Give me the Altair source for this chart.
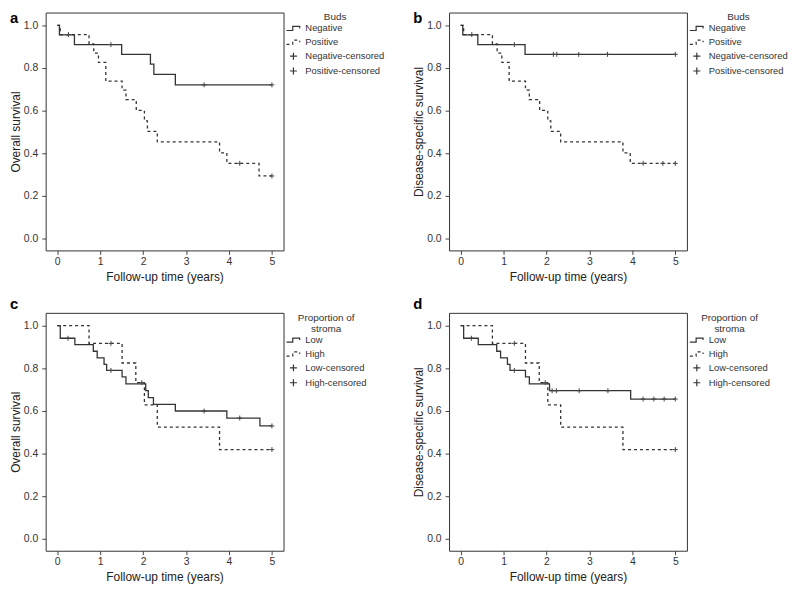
import altair as alt
import pandas as pd

FONT = "Liberation Sans"

# ---------------- data ----------------
groups_ab = ["Negative", "Positive"]
groups_cd = ["Low", "High"]

# Panel a: overall survival by buds
a_neg_t = [0, 0.05, 0.40, 1.50, 2.17, 2.25, 2.75, 5.00]
a_neg_s = [1.0, 0.955, 0.910, 0.864, 0.818, 0.770, 0.721, 0.721]
a_neg_c = [1.25, 3.42, 5.00]
a_pos_t = [0, 0.07, 0.74, 0.85, 0.96, 1.13, 1.51, 1.60, 1.84, 2.03, 2.10, 2.33, 3.78, 3.95, 4.70, 5.00]
a_pos_s = [1.0, 0.957, 0.913, 0.870, 0.826, 0.739, 0.696, 0.652, 0.601, 0.552, 0.503, 0.454, 0.402, 0.353, 0.294, 0.294]
a_pos_c = [0.26, 4.25, 5.00]

# Panel b: disease-specific survival by buds
b_neg_t = [0, 0.05, 0.40, 1.50, 5.00]
b_neg_s = [1.0, 0.955, 0.910, 0.864, 0.864]
b_neg_c = [1.25, 2.16, 2.24, 2.75, 3.42, 5.00]
b_pos_t = [0, 0.07, 0.74, 0.85, 0.96, 1.13, 1.51, 1.60, 1.84, 2.03, 2.10, 2.33, 3.78, 3.95, 5.00]
b_pos_s = [1.0, 0.957, 0.913, 0.870, 0.826, 0.739, 0.696, 0.652, 0.601, 0.552, 0.503, 0.454, 0.402, 0.353, 0.353]
b_pos_c = [0.26, 4.25, 4.71, 5.00]

# Panel c: overall survival by proportion of stroma
c_low_t = [0, 0.07, 0.41, 0.84, 0.93, 1.09, 1.15, 1.51, 1.60, 2.06, 2.12, 2.24, 2.75, 3.95, 4.72, 5.00]
c_low_s = [1.0, 0.941, 0.911, 0.880, 0.849, 0.819, 0.790, 0.760, 0.727, 0.695, 0.663, 0.631, 0.600, 0.567, 0.530, 0.530]
c_low_c = [0.25, 1.25, 3.42, 4.25, 5.00]
c_high_t = [0, 0.74, 1.51, 1.83, 2.03, 2.33, 3.78, 5.00]
c_high_s = [1.0, 0.917, 0.825, 0.733, 0.629, 0.524, 0.419, 0.419]
c_high_c = [1.25, 1.97, 5.00]

# Panel d: disease-specific survival by proportion of stroma
d_low_t = [0, 0.07, 0.41, 0.84, 0.93, 1.09, 1.15, 1.51, 1.60, 2.07, 3.96, 5.00]
d_low_s = [1.0, 0.941, 0.911, 0.880, 0.849, 0.819, 0.790, 0.760, 0.727, 0.695, 0.656, 0.656]
d_low_c = [0.25, 1.25, 2.13, 2.23, 2.76, 3.43, 4.25, 4.50, 4.74, 5.00]
d_high_t = [0, 0.74, 1.51, 1.83, 2.03, 2.33, 3.78, 5.00]
d_high_s = [1.0, 0.917, 0.825, 0.733, 0.629, 0.524, 0.419, 0.419]
d_high_c = [1.25, 1.97, 5.00]

x_ticks = [0, 1, 2, 3, 4, 5]
y_ticks = [0.0, 0.2, 0.4, 0.6, 0.8, 1.0]

# ---------------- styling ----------------
STEP = "M-1,0.3H-0.1V-0.3H0.9V0"
CROSS = "M-0.5,0H0.5M0,-0.5V0.5"
W, H = 240, 240


def surv_at(ts, ss, x):
    v = ss[0]
    for ti, si in zip(ts, ss):
        if ti <= x:
            v = si
    return v


def panel(letter, letter_y, letter_baseline, ytitle, ltitle, groups, curves):
    line_rows, cens_rows = [], []
    for g, (ts, ss, cs) in zip(groups, curves):
        for ti, si in zip(ts, ss):
            line_rows.append({"t": ti, "s": si, "g": g})
        for c in cs:
            cens_rows.append({"t": c, "s": surv_at(ts, ss, c), "g": g + "-censored"})
    dom = groups + [g + "-censored" for g in groups]
    x = alt.X("t:Q",
              scale=alt.Scale(domain=[-0.27, 5.27], nice=False, zero=False),
              axis=alt.Axis(values=x_ticks, title="Follow-up time (years)",
                            labelPadding=2, titlePadding=5))
    y = alt.Y("s:Q",
              scale=alt.Scale(domain=[-0.055, 1.06], nice=False, zero=False),
              axis=alt.Axis(values=y_ticks, format=".1f", title=ytitle,
                            labelPadding=4, titlePadding=1))
    lines = alt.Chart(pd.DataFrame(line_rows)).mark_line(
        interpolate="step-after", color="#333", strokeWidth=1.3
    ).encode(
        x=x, y=y,
        strokeDash=alt.StrokeDash("g:N",
                                  scale=alt.Scale(domain=dom, range=[[1, 0], [3, 3], [1, 0], [1, 0]]),
                                  legend=alt.Legend(title=ltitle)),
    )
    cens = alt.Chart(pd.DataFrame(cens_rows)).mark_point(
        size=100, color="#444", strokeWidth=1, opacity=1
    ).encode(
        x=x, y=y,
        shape=alt.Shape("g:N",
                        scale=alt.Scale(domain=dom, range=[STEP, STEP, CROSS, CROSS]),
                        legend=alt.Legend(title=ltitle)),
    )
    lab = alt.Chart(pd.DataFrame({"l": [letter]})).mark_text(
        text=letter, font=FONT, fontSize=15, fontWeight="bold",
        align="left", baseline=letter_baseline, color="black"
    ).encode(x=alt.value(-36), y=alt.value(letter_y))
    return alt.layer(lines, cens, lab).properties(width=W, height=H)


pa = panel("a", -1, "top", "Overall survival", "Buds", groups_ab,
           [(a_neg_t, a_neg_s, a_neg_c), (a_pos_t, a_pos_s, a_pos_c)])
pb = panel("b", -1, "top", "Disease-specific survival", "Buds", groups_ab,
           [(b_neg_t, b_neg_s, b_neg_c), (b_pos_t, b_pos_s, b_pos_c)])
pc = panel("c", -4, "alphabetic", "Overall survival", ["Proportion of", "stroma"], groups_cd,
           [(c_low_t, c_low_s, c_low_c), (c_high_t, c_high_s, c_high_c)])
pd_ = panel("d", -4, "alphabetic", "Disease-specific survival", ["Proportion of", "stroma"], groups_cd,
            [(d_low_t, d_low_s, d_low_c), (d_high_t, d_high_s, d_high_c)])

chart = alt.concat(pa, pb, pc, pd_, columns=2, spacing={"row": 13, "column": 26}).resolve_scale(
    strokeDash="independent", shape="independent"
).resolve_legend(
    strokeDash="independent", shape="independent"
).properties(
    padding=0
).configure(font=FONT).configure_view(
    stroke="#333", strokeWidth=1
).configure_axis(
    labelFont=FONT, labelFontSize=10.5, labelColor="#333",
    titleFont=FONT, titleFontSize=12, titleFontWeight="normal", titleColor="#222",
    tickColor="#444", tickSize=4, domain=False, grid=False
).configure_legend(
    orient="right", offset=2, padding=0,
    labelFont=FONT, labelFontSize=9.5, labelColor="#333", labelOffset=4,
    titleFont=FONT, titleFontSize=10, titleFontWeight="normal", titleColor="#333",
    titleAnchor="middle", titlePadding=-2, titleLineHeight=11.5,
    symbolSize=196, symbolStrokeWidth=1.2, symbolStrokeColor="#333", rowPadding=1
)

chart.save("out.html", embed_options={"renderer": "svg", "actions": False})
